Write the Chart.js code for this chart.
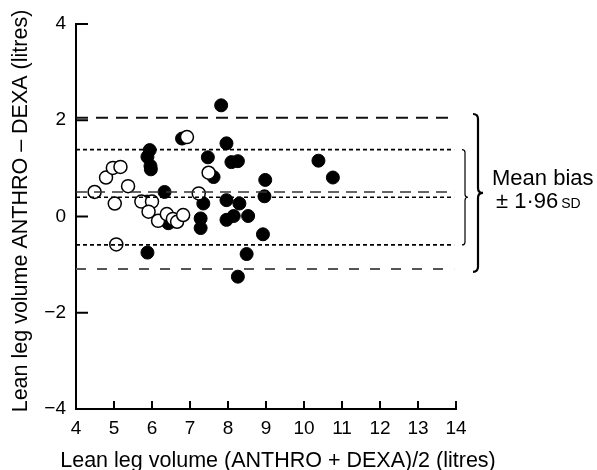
<!DOCTYPE html>
<html lang="en">
<head>
<meta charset="UTF-8">
<title>Lean leg volume: ANTHRO vs DEXA</title>
<script src="https://cdn.jsdelivr.net/npm/chart.js"></script>
<style>
  html, body { margin: 0; padding: 0; background: #fff; }
</style>
</head>
<body>
<canvas id="bland" width="597" height="470"></canvas>
<script>
// open circles
const openX = [4.49, 4.79, 4.97, 5.17, 5.02, 5.37, 5.06, 5.72, 6.00, 5.91, 6.16, 6.39, 6.55, 6.66, 6.82, 6.92, 7.23, 7.49];
const openY = [0.51, 0.81, 1.01, 1.03, 0.27, 0.63, -0.58, 0.31, 0.31, 0.10, -0.09, 0.05, -0.05, -0.11, 0.03, 1.65, 0.48, 0.91];

// filled circles
const fillX = [7.82, 5.94, 5.88, 5.96, 5.97, 6.79, 7.96, 7.47, 7.62, 8.09, 8.26, 8.98, 8.96, 10.38, 10.76,
               6.33, 5.87, 6.43, 6.55, 7.28, 7.28, 7.35, 7.96, 8.30, 7.96, 8.15, 8.53, 5.88, 8.49, 8.26, 8.92];
const fillY = [2.31, 1.38, 1.24, 1.05, 0.98, 1.62, 1.52, 1.23, 0.82, 1.13, 1.15, 0.76, 0.42, 1.16, 0.81,
               0.51, 0.31, -0.14, -0.10, -0.04, -0.24, 0.27, 0.34, 0.27, -0.07, 0.01, 0.01, -0.75, -0.78, -1.25, -0.37];

// mean bias and +/- 1.96 SD limits: [upper, mean, lower]
const dashedLimits = [2.05, 0.51, -1.09];
const dottedLimits = [1.39, 0.40, -0.59];
const lineSpan = [4, 13.95];

const xTicks = [4, 5, 6, 7, 8, 9, 10, 11, 12, 13, 14];
const yTicks = [-4, -2, 0, 2, 4];

const xTitle = 'Lean leg volume (ANTHRO + DEXA)/2 (litres)';
const yTitle = 'Lean leg volume ANTHRO \u2013 DEXA (litres)';

const font = '"Liberation Sans", Arial, Helvetica, sans-serif';

function toPoints(xs, ys) {
  return xs.map((x, i) => ({ x: x, y: ys[i] }));
}

function limitLine(y, dash, color, width) {
  return {
    type: 'line',
    data: lineSpan.map(x => ({ x: x, y: y })),
    borderColor: color,
    borderWidth: width,
    borderDash: dash,
    pointRadius: 0,
    showLine: true,
    fill: false
  };
}

// curly brace opening to the left, tip pointing right
function brace(ctx, x, yTop, yBot, yTip, w) {
  const r = w;
  ctx.beginPath();
  ctx.moveTo(x - w, yTop);
  ctx.quadraticCurveTo(x, yTop, x, yTop + r);
  ctx.lineTo(x, yTip - r);
  ctx.quadraticCurveTo(x, yTip, x + w, yTip);
  ctx.quadraticCurveTo(x, yTip, x, yTip + r);
  ctx.lineTo(x, yBot - r);
  ctx.quadraticCurveTo(x, yBot, x - w, yBot);
  ctx.stroke();
}

const extras = {
  id: 'extras',
  afterDraw(chart) {
    const ctx = chart.ctx;
    const xs = chart.scales.x, ys = chart.scales.y;
    ctx.save();
    ctx.strokeStyle = '#000';
    ctx.lineWidth = 2;
    ctx.lineCap = 'butt';

    // inward tick marks
    yTicks.forEach(v => {
      const p = ys.getPixelForValue(v);
      ctx.beginPath(); ctx.moveTo(xs.left, p); ctx.lineTo(xs.left + 12, p); ctx.stroke();
    });
    xTicks.forEach(v => {
      const p = xs.getPixelForValue(v);
      ctx.beginPath(); ctx.moveTo(p, ys.bottom); ctx.lineTo(p, ys.bottom - 8); ctx.stroke();
    });

    // braces
    ctx.lineWidth = 1.2;
    brace(ctx, 465, ys.getPixelForValue(dottedLimits[0]), ys.getPixelForValue(dottedLimits[2]),
          ys.getPixelForValue(dottedLimits[1]), 3);
    ctx.lineWidth = 2.2;
    brace(ctx, 478, ys.getPixelForValue(dashedLimits[0] + 0.08), ys.getPixelForValue(dashedLimits[2] - 0.06),
          ys.getPixelForValue(dashedLimits[1] - 0.02), 5);

    ctx.fillStyle = '#000';
    ctx.textBaseline = 'alphabetic';

    // axis titles (drawn here so they are not squeezed to the axis length)
    ctx.font = '21.5px ' + font;
    ctx.textAlign = 'center';
    ctx.fillText(xTitle, 278, 467);
    ctx.save();
    ctx.translate(27, 211);
    ctx.rotate(-Math.PI / 2);
    ctx.fillText(yTitle, 0, 0);
    ctx.restore();

    // bracket label
    ctx.textAlign = 'left';
    ctx.font = '22px ' + font;
    ctx.fillText('Mean bias', 492, 185);
    const line2 = '\u00b1 1\u00b796';
    ctx.fillText(line2, 496, 208);
    const w2 = ctx.measureText(line2).width;
    ctx.font = '14px ' + font;
    ctx.fillText('SD', 496 + w2 + 3, 208);
    ctx.restore();
  }
};

new Chart(document.getElementById('bland'), {
  type: 'scatter',
  data: {
    datasets: [
      limitLine(dashedLimits[0], [12, 8], '#111', 2),
      limitLine(dashedLimits[1], [11, 7], '#333', 1.6),
      limitLine(dashedLimits[2], [10, 11], '#555', 2),
      limitLine(dottedLimits[0], [4, 3], '#000', 1.6),
      limitLine(dottedLimits[1], [4, 3], '#000', 1.6),
      limitLine(dottedLimits[2], [4, 3], '#000', 1.6),
      {
        data: toPoints(openX, openY),
        backgroundColor: '#fff',
        borderColor: '#000',
        borderWidth: 1.5,
        pointRadius: 6.5
      },
      {
        data: toPoints(fillX, fillY),
        backgroundColor: '#000',
        borderColor: '#000',
        borderWidth: 1,
        pointRadius: 6.5
      }
    ]
  },
  options: {
    responsive: false,
    animation: false,
    layout: { padding: { top: 24, right: 141, bottom: 0, left: 0 } },
    plugins: { legend: { display: false }, tooltip: { enabled: false } },
    scales: {
      x: {
        type: 'linear',
        min: 4, max: 14,
        afterFit: s => { s.height = 61; },
        grid: { display: false, drawTicks: false },
        border: { display: true, color: '#000', width: 2 },
        ticks: { stepSize: 1, padding: 8, color: '#000', font: { family: font, size: 19 } },
        title: { display: false }
      },
      y: {
        type: 'linear',
        min: -4, max: 4,
        afterFit: s => { s.width = 76; },
        grid: { display: false, drawTicks: false },
        border: { display: true, color: '#000', width: 2 },
        ticks: {
          stepSize: 2, padding: 10, color: '#000', font: { family: font, size: 19 },
          callback: v => v < 0 ? '\u2212' + Math.abs(v) : String(v)
        },
        title: { display: false }
      }
    }
  },
  plugins: [extras]
});
</script>
</body>
</html>
